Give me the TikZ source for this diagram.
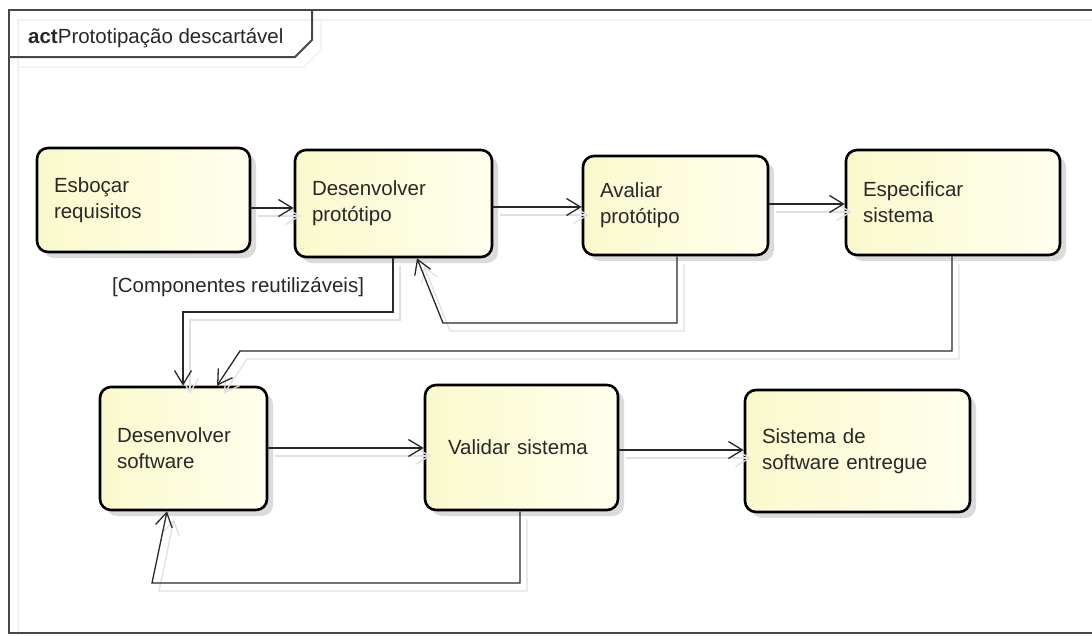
\documentclass[tikz,border=0pt]{standalone}
\usepackage{fontspec}
\setmainfont{Liberation Sans}
\usetikzlibrary{arrows.meta,shadows}
\definecolor{actL}{RGB}{250,249,204}
\definecolor{actR}{RGB}{255,255,238}
\definecolor{ink}{RGB}{40,40,40}
% one connector: a faint offset copy underneath, then the line itself
\newcommand\actconn[1]{\draw[ghost] #1; \draw[flow] #1;}
\begin{document}
\begin{tikzpicture}[x=1pt,y=-1pt,
  every node/.style={font=\fontsize{20.5}{26}\selectfont, text=ink},
  actbox/.style={draw=black, line width=2.6pt, rounded corners=11pt,
    left color=actL, right color=actR,
    drop shadow={shadow xshift=6pt, shadow yshift=-6pt, fill=black!14, opacity=1},
    align=left, inner xsep=17pt, inner ysep=0pt, anchor=center},
  flow/.style={draw=ink, line width=1.3pt, -{Straight Barb[length=14pt,width=17pt]}},
  ghost/.style={draw=black!12, line width=1.3pt, -{Straight Barb[length=14pt,width=17pt]},
    transform canvas={shift={(7pt,-8pt)}}},
  frame/.style={draw=black!72, line width=2pt},
  frameghost/.style={draw=black!6, line width=1.5pt, transform canvas={shift={(9pt,-10pt)}}}
]
\useasboundingbox (0,0) rectangle (1092,635);

% diagram frame with its name tab
\draw[frameghost] (1092,10) -- (9,10) -- (9,633);
\draw[frameghost] (9,57) -- (295,57) -- (312,40) -- (312,10);
\draw[frame] (1092,10) -- (9,10) -- (9,633) -- (1092,633);
\draw[frame] (9,57) -- (295,57) -- (312,40) -- (312,10);
\node[anchor=base west, inner sep=0pt] (title) at (28,43) {{\bfseries act}Prototipação descartável};

% actions
\node[actbox, minimum width=213pt, minimum height=104pt, text width=179pt] (esb) at (143.5,200) {Esboçar\\requisitos};
\node[actbox, minimum width=197pt, minimum height=107pt, text width=163pt] (dpr) at (393.5,203.5) {Desenvolver\\protótipo};
\node[actbox, minimum width=185pt, minimum height=99pt, text width=151pt] (ava) at (675.5,205.5) {Avaliar\\protótipo};
\node[actbox, minimum width=214pt, minimum height=105pt, text width=180pt] (esp) at (953,202.5) {Especificar\\sistema};
\node[actbox, minimum width=167pt, minimum height=123pt, text width=133pt] (dsw) at (183.5,448.5) {Desenvolver\\software};
\node[actbox, minimum width=193pt, minimum height=125pt, text width=165pt, inner xsep=14pt] (val) at (521.5,447.5) {\hspace*{9pt}Validar sistema};
\node[actbox, minimum width=225pt, minimum height=122pt, text width=191pt] (ent) at (857.5,451) {Sistema de\\software entregue};

% guard label
\node[anchor=west, inner sep=0pt] (guard) at (112,287) {[Componentes reutilizáveis]};

% control flows
\actconn{(esb.east |- 0,208) -- (dpr.west |- 0,208)}
\actconn{(dpr.east |- 0,207) -- (ava.west |- 0,207)}
\actconn{(ava.east |- 0,204) -- (esp.west |- 0,204)}
\actconn{(dpr.south -| 393,0) -- (393,312) -- (183,312) -- (dsw.north -| 183,0)}
\actconn{(ava.south -| 677,0) -- (677,323) -- (443,323) -- (dpr.south -| 417,0)}
\actconn{(esp.south -| 952,0) -- (952,351) -- (240,351) -- (dsw.north -| 217,0)}
\actconn{(dsw.east |- 0,448) -- (val.west |- 0,448)}
\actconn{(val.east |- 0,450) -- (ent.west |- 0,450)}
\actconn{(val.south -| 520,0) -- (520,583) -- (152,583) -- (dsw.south -| 167,0)}
\end{tikzpicture}
\end{document}
